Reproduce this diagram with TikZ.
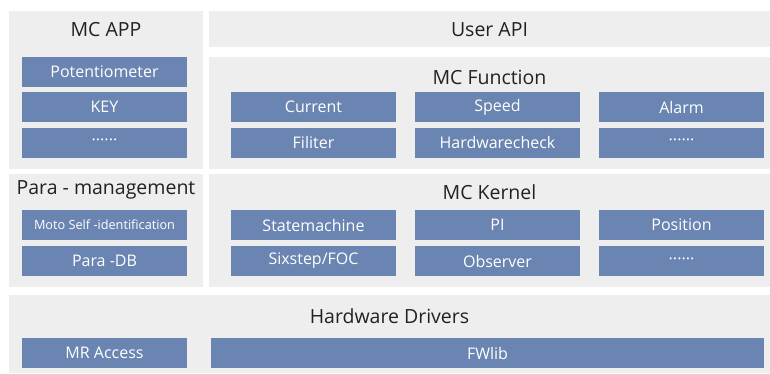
\documentclass[tikz,border=0pt]{standalone}
\usepackage{fontspec}
\setmainfont{Open Sans}
\definecolor{panelgray}{HTML}{EDEEED}
\definecolor{boxblue}{HTML}{6A85B1}
\definecolor{titlegray}{HTML}{222222}
\begin{document}
\begin{tikzpicture}[x=1pt, y=-1pt,
    panel/.style={fill=panelgray, inner sep=0pt},
    blk/.style={fill=boxblue, text=white, inner sep=0pt, minimum width=165pt,
      minimum height=30pt, font=\fontsize{16}{19}\selectfont},
    ttl/.style={text=titlegray, inner sep=0pt, font=\fontsize{19.5}{23}\selectfont}]
    \useasboundingbox (0,0) rectangle (770,373);
    \node[panel, minimum width=194pt, minimum height=158pt] (app) at (106,90){};
    \node[panel, minimum width=561pt, minimum height=36pt] (api) at (489.5,29){};
    \node[panel, minimum width=561pt, minimum height=112pt] (func) at (489.5,113){};
    \node[panel, minimum width=194pt, minimum height=113pt] (para) at (106,230.5){};
    \node[panel, minimum width=561pt, minimum height=113pt] (kern) at (489.5,230.5){};
    \node[panel, minimum width=761pt, minimum height=78pt] (hw) at (389.5,334){};
    \node[ttl] (appttl) at (106,30) {MC APP};
    \node[ttl] (apittl) at (489.5,30) {User API};
    \node[ttl] (functtl) at (489.5,77) {MC Function};
    \node[ttl] (parattl) at (106,190) {Para - management};
    \node[ttl] (kernttl) at (489.5,192) {MC Kernel};
    \node[ttl] (hwttl) at (389.5,316) {Hardware Drivers};
    \foreach \n/\y/\t in {pot/72/Potentiometer, key/107/KEY, appdots/142.5/······}
    \node[blk] (\n) at (104.5,\y) {\t};
    \node[blk, font=\fontsize{12.7}{15}\selectfont] (moto) at (104.5,225) {Moto Self -identification};
    \node[blk] (db) at (104.5,261) {Para -DB};
    \node[blk] (mr) at (104.5,353) {MR Access};
    \foreach \n/\x/\y/\t in {cur/313.5/107/Current, spd/497.5/107/\raisebox{2pt}{Speed}, alm/681.5/107/Alarm,
      fil/313.5/142.5/Filiter, hwc/497.5/142.5/Hardwarecheck, fundots/681.5/142.5/······,
      sm/313.5/225/Statemachine, pi/497.5/225/PI, pos/681.5/225/Position,
      six/313.5/261/{Sixstep/FOC}, obs/497.5/261/Observer, kerndots/681.5/261/······}
    \node[blk] (\n) at (\x,\y) {\t};
    \node[blk, minimum width=553pt] (fw) at (487.5,353) {FWlib};
\end{tikzpicture}
\end{document}
